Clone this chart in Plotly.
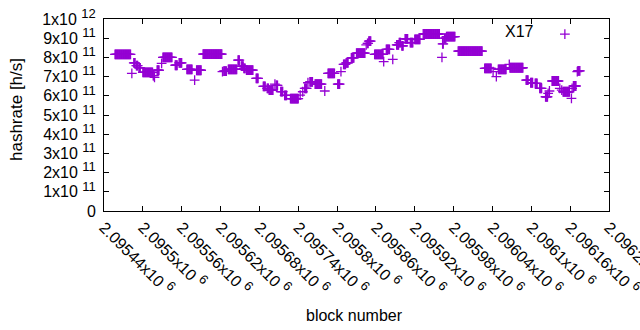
import plotly.graph_objects as go

# Runs of blocks sharing the same estimated hashrate (value in units of 1e11 h/s)
run_start = [2095457, 2095483, 2095486, 2095490, 2095494, 2095500, 2095516, 2095518, 2095522, 2095529,
             2095531, 2095550, 2095556, 2095568, 2095580, 2095583, 2095593, 2095623, 2095625, 2095632,
             2095647, 2095652, 2095656, 2095660, 2095675, 2095686, 2095692, 2095695, 2095704, 2095706,
             2095713, 2095719, 2095728, 2095743, 2095747, 2095750, 2095755, 2095758, 2095766, 2095781,
             2095786, 2095801, 2095806, 2095810, 2095814, 2095822, 2095830, 2095845, 2095847, 2095849,
             2095858, 2095872, 2095876, 2095886, 2095892, 2095896, 2095900, 2095905, 2095913, 2095920,
             2095933, 2095962, 2095963, 2095966, 2095969, 2095987, 2096028, 2096041, 2096046, 2096049,
             2096066, 2096067, 2096092, 2096099, 2096106, 2096113, 2096122, 2096126, 2096128, 2096132,
             2096144, 2096147, 2096149, 2096162, 2096163, 2096165, 2096171, 2096172]
run_end = [2095481, 2095483, 2095488, 2095492, 2095496, 2095515, 2095517, 2095518, 2095525, 2095529,
           2095545, 2095553, 2095560, 2095576, 2095580, 2095590, 2095622, 2095623, 2095629, 2095645,
           2095649, 2095655, 2095658, 2095670, 2095678, 2095689, 2095694, 2095701, 2095704, 2095708,
           2095716, 2095722, 2095740, 2095743, 2095747, 2095753, 2095755, 2095762, 2095776, 2095781,
           2095796, 2095804, 2095806, 2095813, 2095817, 2095826, 2095843, 2095845, 2095848, 2095852,
           2095871, 2095872, 2095881, 2095886, 2095895, 2095898, 2095902, 2095909, 2095917, 2095928,
           2095958, 2095962, 2095964, 2095968, 2095982, 2096024, 2096038, 2096041, 2096046, 2096061,
           2096066, 2096087, 2096095, 2096102, 2096109, 2096116, 2096125, 2096126, 2096128, 2096142,
           2096144, 2096147, 2096159, 2096162, 2096163, 2096169, 2096171, 2096175]
run_value = [8.16, 7.17, 7.72, 7.57, 7.45, 7.22, 7.05, 6.96, 7.33, 7.69,
             8.00, 7.59, 7.72, 7.38, 6.82, 7.33, 8.17, 7.26, 7.29, 7.38,
             7.86, 7.55, 7.43, 7.34, 6.91, 6.49, 6.39, 6.30, 6.61, 6.54,
             6.22, 6.02, 5.85, 6.04, 6.21, 6.39, 6.68, 6.73, 6.61, 6.25,
             7.17, 6.61, 7.26, 7.64, 7.72, 7.98, 8.22, 8.65, 8.73, 8.85,
             8.16, 7.78, 8.42, 7.90, 8.65, 8.77, 8.60, 8.96, 8.77, 8.94,
             9.22, 8.00, 8.70, 9.00, 9.08, 8.33, 7.43, 7.26, 7.00, 7.38,
             7.64, 7.46, 6.82, 6.68, 6.65, 6.39, 5.95, 6.13, 6.25, 6.77,
             6.39, 6.30, 6.21, 5.87, 6.39, 6.51, 7.26, 7.30]

x_ticks = [2095440, 2095500, 2095560, 2095620, 2095680, 2095740, 2095800,
           2095860, 2095920, 2095980, 2096040, 2096100, 2096160, 2096220]
x_tick_labels = ["2.09544", "2.0955", "2.09556", "2.09562", "2.09568", "2.09574", "2.0958",
                 "2.09586", "2.09592", "2.09598", "2.09604", "2.0961", "2.09616", "2.09622"]
y_ticks = [0, 1e11, 2e11, 3e11, 4e11, 5e11, 6e11, 7e11, 8e11, 9e11, 1e12]
y_mantissa = ["0", "1", "2", "3", "4", "5", "6", "7", "8", "9", "1"]
y_exponent = ["", "11", "11", "11", "11", "11", "11", "11", "11", "11", "12"]

blocks = []
hashrate = []
for s, e, v in zip(run_start, run_end, run_value):
    for b in range(s, e + 1):
        blocks.append(b)
        hashrate.append(v * 1e11)

SUP = "<sup><span style='font-size:13px'>{}</span></sup>"
y_text = [m if not e else m + "x10 " + SUP.format(e) for m, e in zip(y_mantissa, y_exponent)]
x_text = [t + "x10 " + SUP.format("6") for t in x_tick_labels]

COLOR = "#9400D3"
FONT = "Liberation Sans, Arial, sans-serif"

fig = go.Figure()
fig.add_trace(go.Scatter(
    x=blocks, y=hashrate, mode="markers", name=" ",
    marker=dict(symbol="cross-thin", size=7, color=COLOR, line=dict(color=COLOR, width=1.3)),
    showlegend=True,
))

fig.update_layout(
    width=640, height=330,
    margin=dict(l=104, r=31, t=19, b=119, autoexpand=False),
    paper_bgcolor="white", plot_bgcolor="white",
    font=dict(family=FONT, size=16, color="black"),
    legend=dict(x=0.873, y=0.92, xanchor="left", yanchor="middle",
                bgcolor="rgba(0,0,0,0)", borderwidth=0, font=dict(size=15)),
    xaxis=dict(range=[2095440, 2096220], tickvals=x_ticks, ticktext=x_text,
               tickangle=45, ticks="inside", ticklen=5, tickcolor="black",
               showline=True, linecolor="black", linewidth=1, mirror="ticks",
               showgrid=False, zeroline=False, automargin=False,
               ticklabeloverflow="allow",
               tickfont=dict(size=16, color="black")),
    yaxis=dict(range=[0, 1e12], tickvals=y_ticks, ticktext=y_text,
               ticks="inside", ticklen=5, tickcolor="black",
               showline=True, linecolor="black", linewidth=1, mirror="ticks",
               showgrid=False, zeroline=False, automargin=False,
               ticklabelstandoff=4, tickfont=dict(size=16, color="black")),
    annotations=[
        dict(text="X17", xref="paper", yref="paper", x=(536 - 104) / 505, y=(211 - 31) / 192,
             xanchor="right", yanchor="middle", showarrow=False, font=dict(size=16)),
        dict(text="block number", xref="paper", yref="paper", x=(354 - 104) / 505, y=(211 - 315) / 192,
             xanchor="center", yanchor="middle", showarrow=False, font=dict(size=16)),
        dict(text="hashrate [h/s]", xref="paper", yref="paper", x=(16 - 104) / 505, y=(211 - 110) / 192,
             xanchor="center", yanchor="middle", textangle=-90, showarrow=False, font=dict(size=17)),
    ],
)

fig.write_html("out.html", config={"displayModeBar": False},
               post_script="document.body.style.margin='0';document.body.style.overflow='hidden';")
